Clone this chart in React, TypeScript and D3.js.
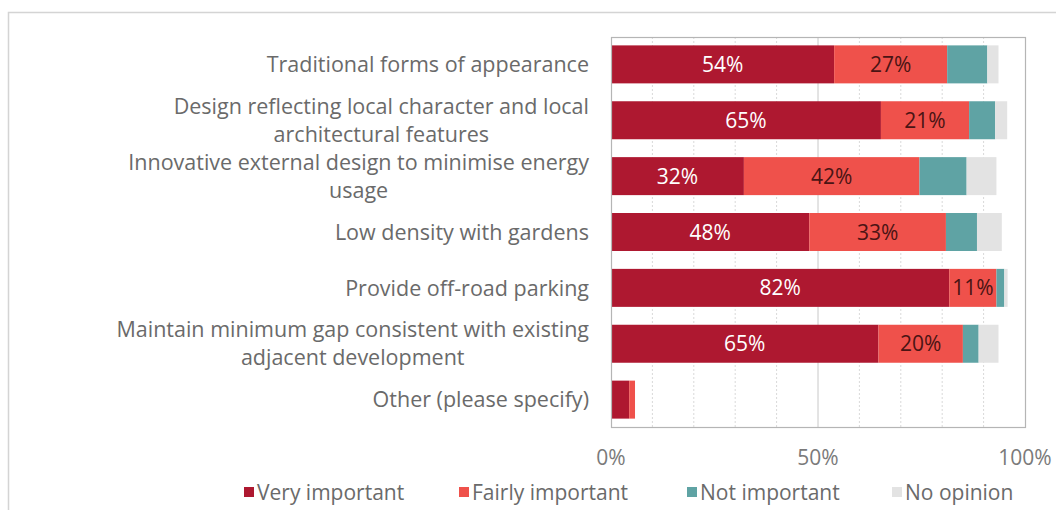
import React, { useEffect, useRef } from "react";
import * as d3 from "d3";

const categories: string[][] = [
  ["Traditional forms of appearance"],
  ["Design reflecting local character and local", "architectural features"],
  ["Innovative external design to minimise energy", "usage"],
  ["Low density with gardens"],
  ["Provide off-road parking"],
  ["Maintain minimum gap consistent with existing", "adjacent development"],
  ["Other (please specify)"],
];
const seriesNames = ["Very important", "Fairly important", "Not important", "No opinion"];
const veryImportant = [53.9, 65.2, 32.1, 47.9, 81.7, 64.6, 4.4];
const fairlyImportant = [27.3, 21.3, 42.4, 33.0, 11.4, 20.4, 1.4];
const notImportant = [9.7, 6.3, 11.4, 7.5, 1.9, 3.8, 0];
const noOpinion = [2.7, 2.9, 7.2, 6.0, 0.8, 4.8, 0];
const tickValues = [0, 50, 100];
const gridValues = [10, 20, 30, 40, 60, 70, 80, 90];

const colors = ["#AE1830", "#EF514B", "#5FA3A4", "#E3E3E3"];
const labelColors = ["#FFFFFF", "#4A1414", "#333", "#333"];
const FONT = "'Open Sans', 'Noto Sans', sans-serif";

export default function App() {
  const ref = useRef<SVGSVGElement>(null);
  useEffect(() => {
    const svg = d3.select(ref.current);
    svg.selectAll("*").remove();
    const W = 1056, H = 510;
    const left = 611, right = 1025, top = 37, bottom = 427;
    const x = d3.scaleLinear().domain([0, 100]).range([left, right]);
    const idx = categories.map((_, i) => i);
    const y = d3.scaleBand<number>().domain(idx).range([top, bottom]).paddingInner(0.32).paddingOuter(0.15);

    // outer frame
    svg.append("rect").attr("x", 8.5).attr("y", 12.5).attr("width", W + 20).attr("height", H)
      .attr("fill", "#fff").attr("stroke", "#d4d4d4").attr("stroke-width", 1.5);

    // gridlines
    svg.append("g").selectAll("line").data(gridValues).join("line")
      .attr("x1", d => x(d)).attr("x2", d => x(d)).attr("y1", top).attr("y2", bottom)
      .attr("stroke", "#d9d9d9").attr("stroke-dasharray", "2,2").attr("stroke-width", 1);
    svg.append("line").attr("x1", x(50)).attr("x2", x(50)).attr("y1", top).attr("y2", bottom)
      .attr("stroke", "#c8c8c8").attr("stroke-width", 1);

    // stacked data
    const rows = idx.map(i => ({
      i,
      "Very important": veryImportant[i],
      "Fairly important": fairlyImportant[i],
      "Not important": notImportant[i],
      "No opinion": noOpinion[i],
    }));
    const stack = d3.stack<any>().keys(seriesNames)(rows);

    stack.forEach((layer, si) => {
      const g = svg.append("g");
      g.selectAll("rect").data(layer).join("rect")
        .attr("x", d => x(d[0])).attr("width", d => Math.max(0, x(d[1]) - x(d[0])))
        .attr("y", (d: any) => y(d.data.i)!).attr("height", y.bandwidth())
        .attr("fill", colors[si]);
      if (si < 2) {
        g.selectAll("text").data(layer.filter(d => d[1] - d[0] >= 8)).join("text")
          .attr("x", d => (x(d[0]) + x(d[1])) / 2)
          .attr("y", (d: any) => y(d.data.i)! + y.bandwidth() / 2)
          .attr("dy", "0.36em").attr("text-anchor", "middle")
          .attr("font-family", FONT).attr("font-size", 21).attr("fill", labelColors[si])
          .text(d => d3.format(".0f")(d[1] - d[0]) + "%");
      }
    });

    // plot border
    svg.append("rect").attr("x", left + 0.5).attr("y", top + 0.5)
      .attr("width", right - left).attr("height", bottom - top)
      .attr("fill", "none").attr("stroke", "#b5b5b5").attr("stroke-width", 1.2);

    // category labels
    const labelRight = 589;
    const lineH = 28;
    categories.forEach((lines, i) => {
      const cy = y(i)! + y.bandwidth() / 2;
      const g = svg.append("g");
      const texts = lines.map((ln, k) =>
        g.append("text").attr("font-family", FONT).attr("font-size", 21.5).attr("fill", "#6a6a6a")
          .attr("dy", "0.36em").attr("y", cy + (k - (lines.length - 1) / 2) * lineH).text(ln)
      );
      const widths = texts.map(t => (t.node() as SVGTextElement).getComputedTextLength());
      const maxW = Math.max(...widths);
      texts.forEach(t => t.attr("text-anchor", "middle").attr("x", labelRight - maxW / 2));
    });

    // x tick labels
    svg.append("g").selectAll("text").data(tickValues).join("text")
      .attr("x", d => x(d)).attr("y", 457).attr("dy", "0.36em").attr("text-anchor", "middle")
      .attr("font-family", FONT).attr("font-size", 21).attr("fill", "#7a7a7a")
      .text(d => d + "%");

    // legend
    const legendX = [244, 459, 687, 892];
    const lg = svg.append("g");
    seriesNames.forEach((name, si) => {
      lg.append("rect").attr("x", legendX[si]).attr("y", 487).attr("width", 10).attr("height", 10)
        .attr("fill", colors[si]);
      lg.append("text").attr("x", legendX[si] + 13).attr("y", 492).attr("dy", "0.36em")
        .attr("font-family", FONT).attr("font-size", 21).attr("fill", "#6a6a6a").text(name);
    });
  }, []);
  return (
    <svg ref={ref} width={1056} height={510}
      style={{ position: "absolute", left: 0, top: 0, background: "#fff" }} />
  );
}
